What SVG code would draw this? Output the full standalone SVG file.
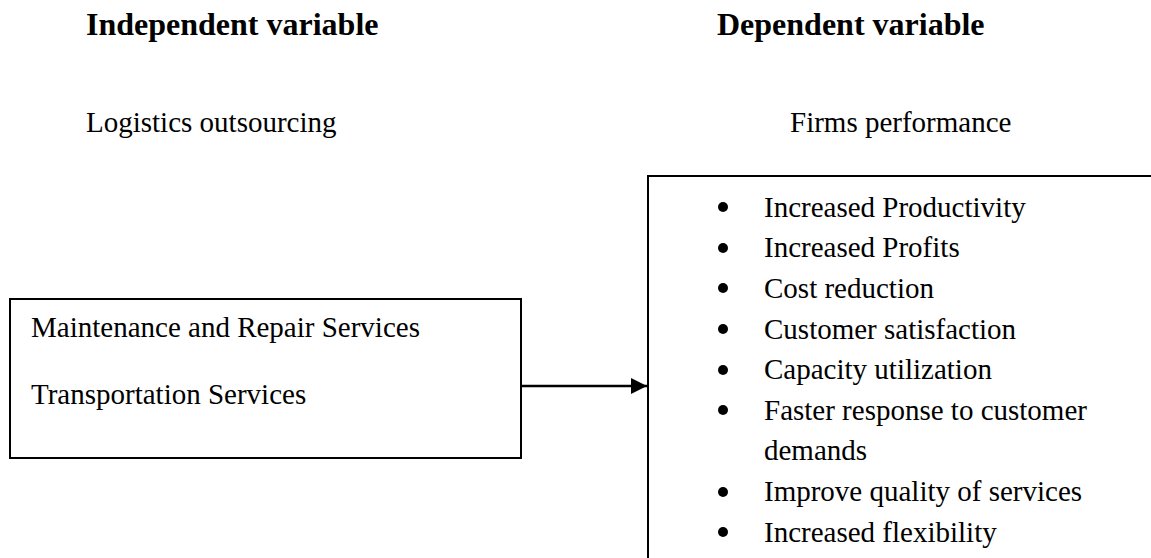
<svg xmlns="http://www.w3.org/2000/svg" width="1151" height="558" viewBox="0 0 1151 558">
<style>
text{font-family:"Liberation Serif","Times New Roman",serif;fill:#000}
.h{font-size:32px;font-weight:bold}
.t{font-size:29px}
.box{fill:#fff;stroke:#000;stroke-width:2}
.ln{stroke:#000;stroke-width:2.5;fill:none}
</style>
<defs>
<marker id="arr" markerWidth="16" markerHeight="16" refX="16" refY="8" orient="auto" markerUnits="userSpaceOnUse">
<path d="M0,0 L16,8 L0,16 Z" fill="#000"/>
</marker>
</defs>
<rect width="1151" height="558" fill="#fff"/>
<g id="headings">
<text class="h" x="86" y="35">Independent variable</text>
<text class="h" x="717" y="35">Dependent variable</text>
<text class="t" x="86" y="132">Logistics outsourcing</text>
<text class="t" x="790" y="132">Firms performance</text>
</g>
<g id="independent">
<rect class="box" x="10" y="299" width="511" height="159"/>
<text class="t" x="31" y="337">Maintenance and Repair Services</text>
<text class="t" x="31" y="404">Transportation Services</text>
</g>
<g id="dependent">
<path class="box" d="M1152,176 L648,176 L648,560"/>
<g fill="#000">
<circle cx="723" cy="207" r="5"/>
<circle cx="723" cy="248" r="5"/>
<circle cx="723" cy="288" r="5"/>
<circle cx="723" cy="329" r="5"/>
<circle cx="723" cy="370" r="5"/>
<circle cx="723" cy="410" r="5"/>
<circle cx="723" cy="492" r="5"/>
<circle cx="723" cy="532" r="5"/>
</g>
<text class="t" x="764" y="217">Increased Productivity</text>
<text class="t" x="764" y="257">Increased Profits</text>
<text class="t" x="764" y="298">Cost reduction</text>
<text class="t" x="764" y="338.5">Customer satisfaction</text>
<text class="t" x="764" y="379">Capacity utilization</text>
<text class="t" x="764" y="420">Faster response to customer</text>
<text class="t" x="764" y="460">demands</text>
<text class="t" x="764" y="501">Improve quality of services</text>
<text class="t" x="764" y="541.5">Increased flexibility</text>
</g>
<g id="connectors">
<line class="ln" x1="521" y1="386" x2="647" y2="386" marker-end="url(#arr)"/>
</g>
</svg>
